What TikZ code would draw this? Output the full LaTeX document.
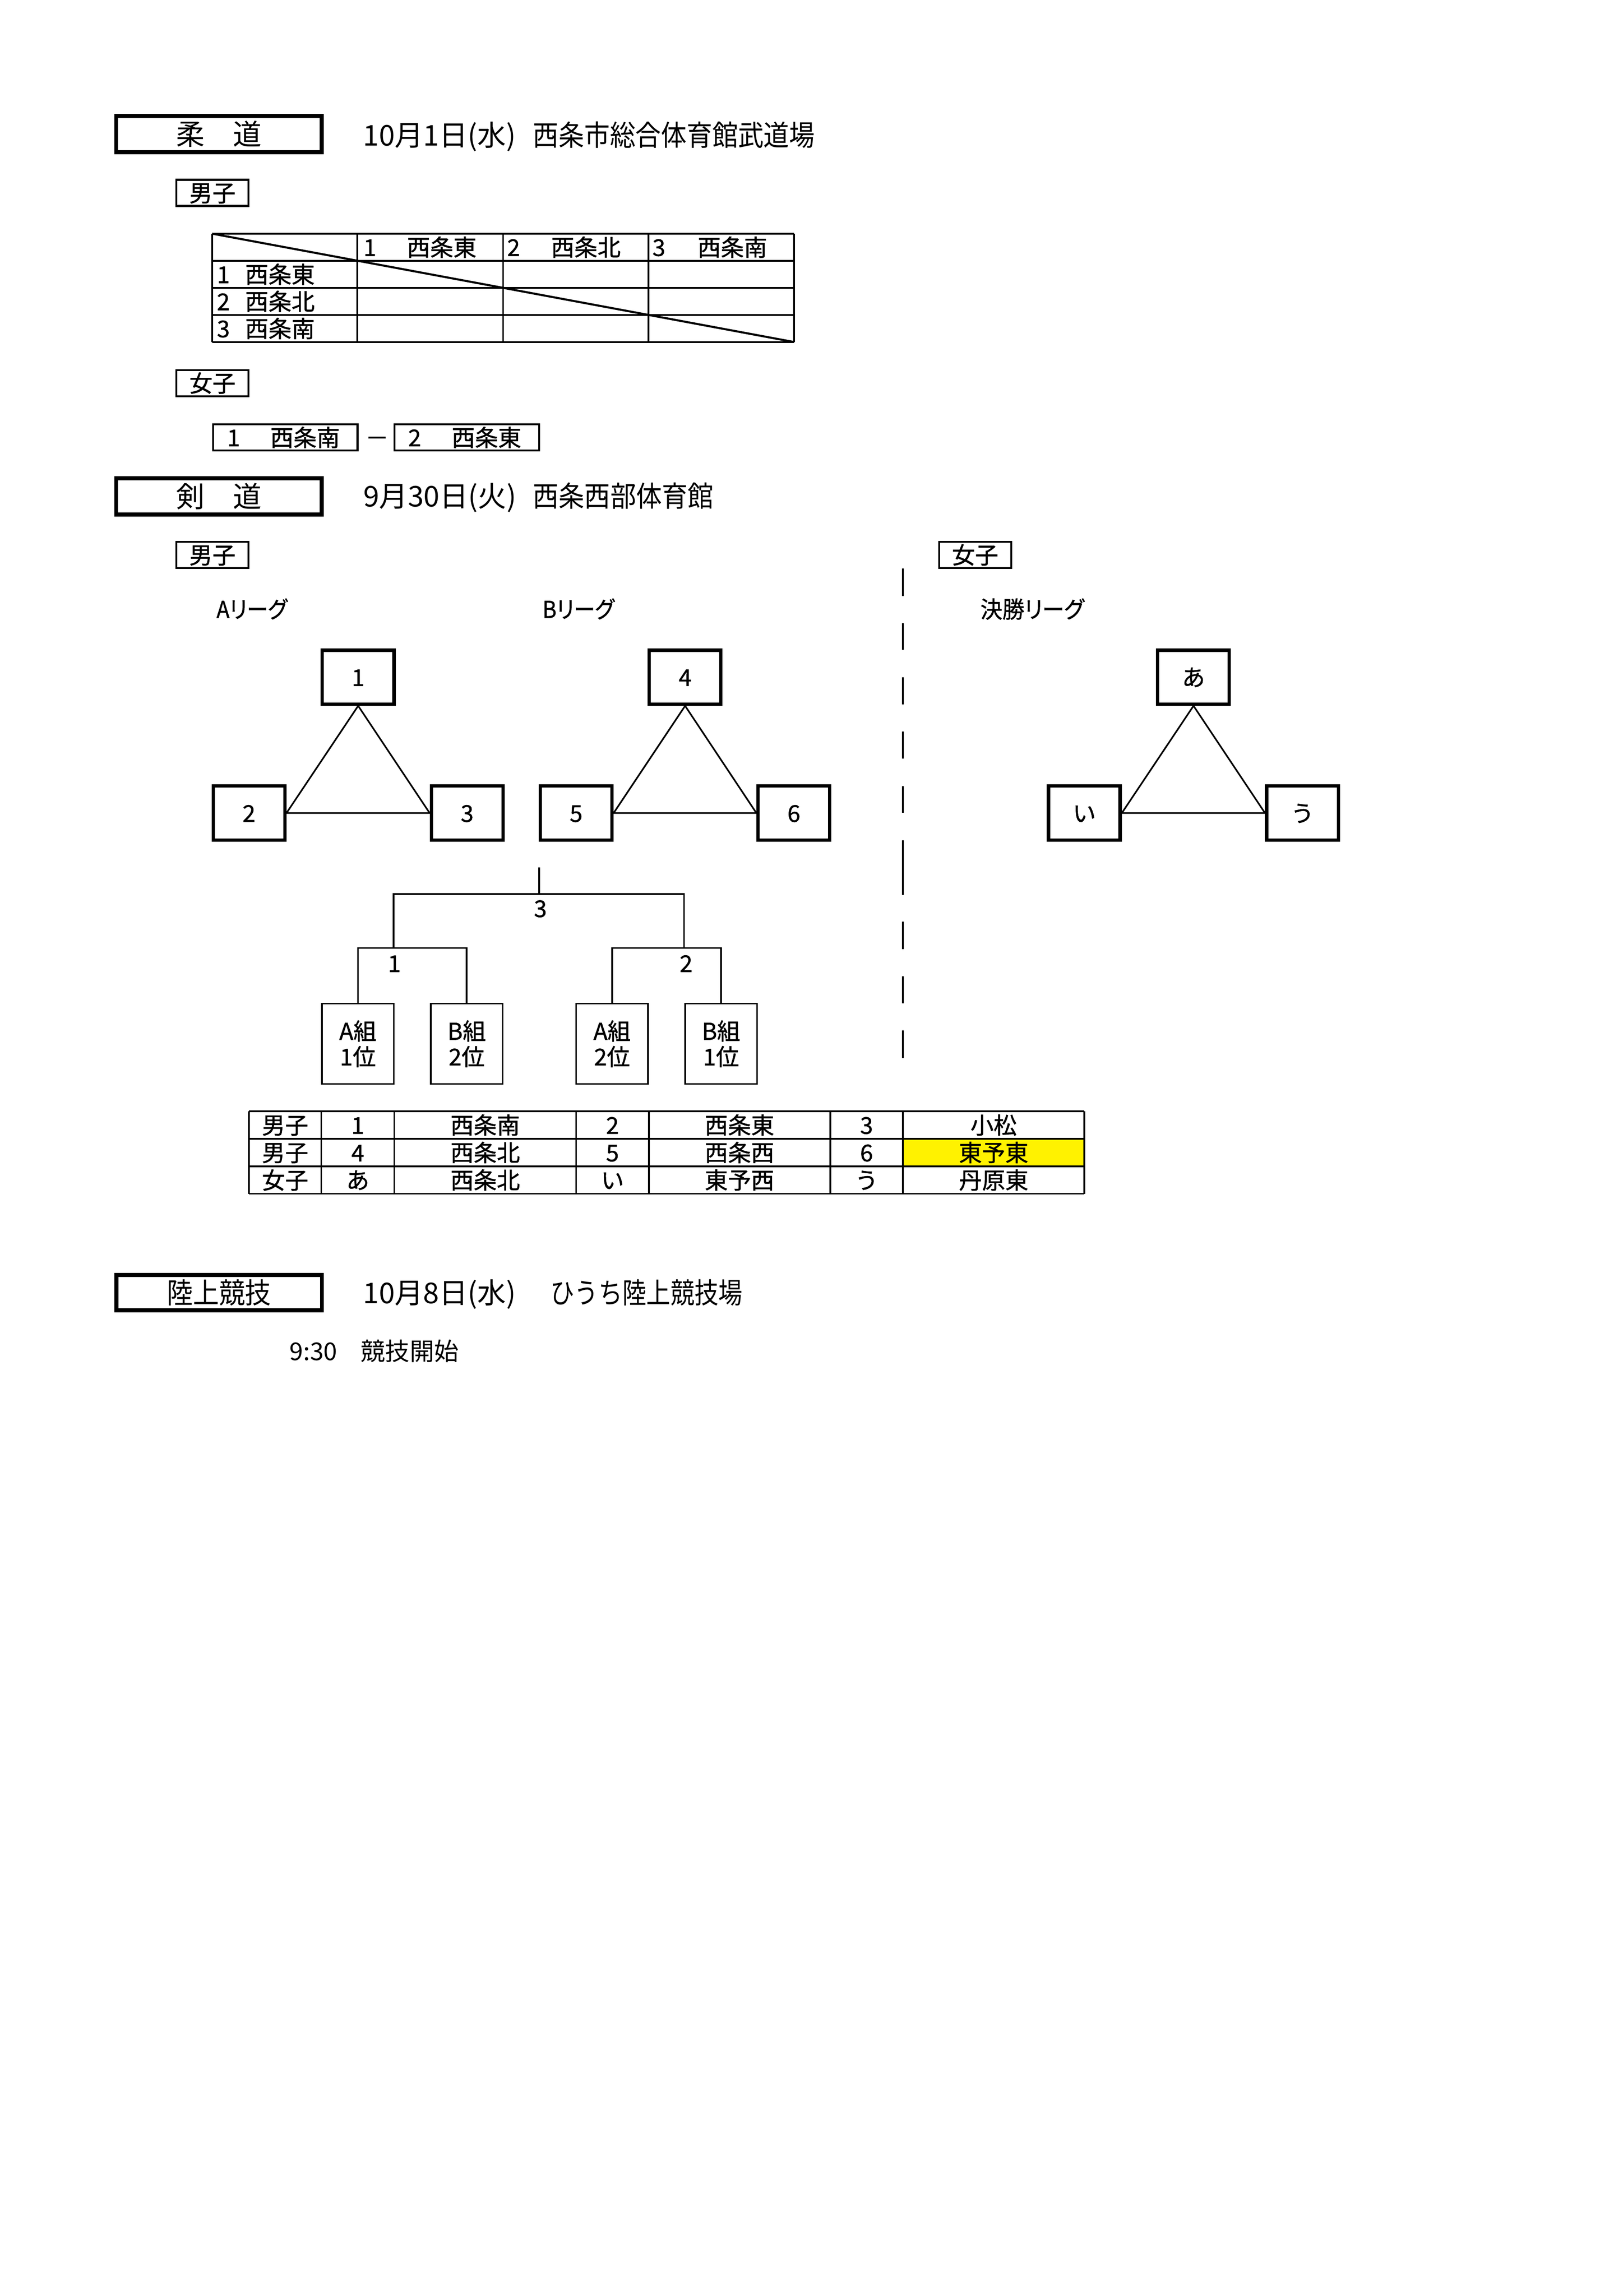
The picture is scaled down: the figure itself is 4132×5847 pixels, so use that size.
\documentclass[tikz,border=0pt]{standalone}
\usepackage{fontspec}
\setmainfont{Noto Sans CJK JP}
\newfontfamily\gth[FakeBold=1.0]{Noto Sans CJK JP}
\newfontfamily\pgo[RawFeature=+palt, FakeBold=1.0]{Noto Sans CJK JP}
\newcommand\fsS{\gth\fontsize{8.5pt}{9.4pt}\selectfont}
\newcommand\fsL{\fontsize{10.5pt}{12pt}\selectfont}
\newcommand\fsM{\fontsize{9pt}{10pt}\selectfont}
\tikzset{
  txt/.style={inner sep=0pt, text height=7.48pt, text depth=1.02pt, font=\fsS},
  mtxt/.style={inner sep=0pt, text height=7.92pt, text depth=1.08pt, font=\fsM},
  htxt/.style={inner sep=0pt, text height=9.24pt, text depth=1.26pt, font=\fsL},
  bigbox/.style={draw, line width=1.44pt, inner sep=0pt, minimum width=75.35pt,
    minimum height=13.3pt, text height=9.24pt, text depth=1.26pt, font=\fsL},
  lblbox/.style={draw, line width=0.72pt, inner sep=0pt, minimum width=26.51pt,
    minimum height=9.6pt, text height=7.48pt, text depth=1.02pt, font=\fsS},
  mbox/.style={draw, line width=0.72pt, inner sep=0pt, minimum width=53.0pt,
    minimum height=9.65pt},
  sqbox/.style={draw, line width=1.22pt, inner sep=0pt, minimum width=26.29pt,
    minimum height=19.81pt, text height=7.48pt, text depth=1.02pt, font=\fsS},
  gbox/.style={draw, line width=0.6pt, inner sep=0pt, minimum width=26.36pt,
    minimum height=29.53pt, align=center, font=\fsS},
  tline/.style={line width=0.62pt},
  thinline/.style={line width=0.6pt},
  divline/.style={line width=0.58pt},
}
\begin{document}
\begin{tikzpicture}[x=0.144066pt, y=-0.144066pt]
\useasboundingbox (0,0) rectangle (4132,5847);
\fill[white] (0,0) rectangle (4132,5847);

% ---------------- 柔道 ----------------
\node[bigbox] (judo) at (557.5,341.5) {柔　道};
\node[htxt, anchor=west] (judodate) at (923,344) {10月1日(水)};
\node[htxt, anchor=west] (judovenue) at (1356,344) {\scalebox{0.895}[1]{西条市総合体育館武道場}};

\node[lblbox] (jmale) at (541,491) {男子};

% table
\foreach \xx in {540,910,1281,1651,2022} \draw[tline] (\xx,595) -- (\xx,871);
\foreach \yy in {595,664,733,802,871} \draw[tline] (540,\yy) -- (2022,\yy);
\coordinate (tdA) at (540,595);
\coordinate (tdB) at (2022,871);
\draw[line width=0.75pt] (tdA) -- (tdB);

\node[txt, anchor=west] (hn1) at (924,629.5) {1};
\node[txt, anchor=west] (hs1) at (1035,629.5) {西条東};
\node[txt, anchor=west] (hn2) at (1290,629.5) {2};
\node[txt, anchor=west] (hs2) at (1402,629.5) {西条北};
\node[txt, anchor=west] (hn3) at (1660,629.5) {3};
\node[txt, anchor=west] (hs3) at (1775,629.5) {西条南};

\node[txt, anchor=west] (rn1) at (551,698.5) {1};
\node[txt, anchor=west] (rs1) at (623,698.5) {西条東};
\node[txt, anchor=west] (rn2) at (551,767.5) {2};
\node[txt, anchor=west] (rs2) at (623,767.5) {西条北};
\node[txt, anchor=west] (rn3) at (551,836.5) {3};
\node[txt, anchor=west] (rs3) at (623,836.5) {西条南};

\node[lblbox] (jfemale) at (541,975.5) {女子};

\node[mbox] (mb1) at (726.5,1114) {};
\node[txt, anchor=west] (mb1n) at (577,1114) {1};
\node[txt, anchor=west] (mb1s) at (687,1114) {西条南};
\node[txt] (mdash) at (960,1114) {－};
\node[mbox] (mb2) at (1188.5,1114) {};
\node[txt, anchor=west] (mb2n) at (1038,1114) {2};
\node[txt, anchor=west] (mb2s) at (1149,1114) {西条東};

% ---------------- 剣道 ----------------
\node[bigbox] (kendo) at (557.5,1264) {剣　道};
\node[htxt, anchor=west] (kendodate) at (924,1263) {9月30日(火)};
\node[htxt, anchor=west] (kendovenue) at (1356,1263) {\scalebox{0.9}[1]{西条西部体育館}};

\node[lblbox] (kmale) at (541,1413) {男子};
\node[lblbox] (kfemale) at (2483,1413) {女子};

\node[txt, anchor=west] (lgA) at (550,1551) {\pgo\scalebox{0.92}[1]{Aリーグ}};
\node[txt, anchor=west] (lgB) at (1380,1551) {\pgo\scalebox{0.92}[1]{Bリーグ}};
\node[txt, anchor=west] (lgF) at (2495,1551) {\pgo\scalebox{0.95}[1]{決勝リーグ}};

% A league
\node[sqbox] (b1) at (912,1724.5) {1};
\node[sqbox] (b2) at (634,2070.5) {2};
\node[sqbox] (b3) at (1189.5,2070.5) {3};
\draw[thinline] (b1.south) -- (b2.east) -- (b3.west) -- cycle;
% B league
\node[sqbox] (b4) at (1744.5,1724.5) {4};
\node[sqbox] (b5) at (1467,2070.5) {5};
\node[sqbox] (b6) at (2021.5,2070.5) {6};
\draw[thinline] (b4.south) -- (b5.east) -- (b6.west) -- cycle;
% final league
\node[sqbox] (ba) at (3039,1724.5) {あ};
\node[sqbox] (bi) at (2761,2070.5) {い};
\node[sqbox] (bu) at (3316.5,2070.5) {う};
\draw[thinline] (ba.south) -- (bi.east) -- (bu.west) -- cycle;

% divider
\foreach \ys/\ye in {1448/1518,1587/1655,1725/1794,1863/1932,2002/2070,2140/2279,2347/2417,2486/2555,2624/2694}
  \draw[divline] (2299,\ys) -- (2299,\ye);

% tournament
\node[gbox] (A1) at (911.3,2658) {A組\\1位};
\node[gbox] (B2) at (1188.3,2658) {B組\\2位};
\node[gbox] (A2) at (1558.5,2658) {A組\\2位};
\node[gbox] (B1) at (1836,2658) {B組\\1位};
\coordinate (stub) at (1373,2209);
\coordinate (jt) at (1373,2277);
\coordinate (jl) at (1002,2277);
\coordinate (jr) at (1742,2277);
\coordinate (sl) at (1002,2414);
\coordinate (sr) at (1742,2414);
\draw[thinline] (stub) -- (jt);
\draw[thinline] (sl) -- (jl) -- (jr) -- (sr);
\draw[thinline] (A1.north) |- (sl) -| (B2.north);
\draw[thinline] (A2.north) |- (sr) -| (B1.north);
\node[txt] (lab3) at (1376,2313) {3};
\node[txt] (lab1) at (1004,2453) {1};
\node[txt] (lab2) at (1747,2453) {2};

% result table
\fill[yellow] (2299,2900) rectangle (2761,2970);
\foreach \xx in {634,818,1004,1467,1652,2114,2299,2761} \draw[tline] (\xx,2830) -- (\xx,3040);
\foreach \yy in {2830,2900,2970,3040} \draw[tline] (634,\yy) -- (2761,\yy);
\foreach \rr/\yy/\va/\vb/\vc/\vd/\ve/\vf/\vg in
  {1/2865/男子/1/西条南/2/西条東/3/小松,
   2/2935/男子/4/西条北/5/西条西/6/東予東,
   3/3005/女子/あ/西条北/い/東予西/う/丹原東}{
  \node[txt] (t\rr a) at (726,\yy) {\va};
  \node[txt] (t\rr b) at (911,\yy) {\vb};
  \node[txt] (t\rr c) at (1235.5,\yy) {\vc};
  \node[txt] (t\rr d) at (1559.5,\yy) {\vd};
  \node[txt] (t\rr e) at (1883,\yy) {\ve};
  \node[txt] (t\rr f) at (2206.5,\yy) {\vf};
  \node[txt] (t\rr g) at (2530,\yy) {\vg};
}

% ---------------- 陸上競技 ----------------
\node[bigbox, minimum height=12.97pt] (riku) at (558,3292) {\scalebox{0.91}[1]{陸上競技}};
\node[htxt, anchor=west] (rikudate) at (923,3292) {10月8日(水)};
\node[htxt, anchor=west] (rikuvenue) at (1400,3292) {\scalebox{0.84}[1]{ひうち陸上競技場}};
\node[mtxt, anchor=west] (rikutime) at (736,3440) {9:30};
\node[mtxt, anchor=west] (rikustart) at (917,3440) {競技開始};
\end{tikzpicture}
\end{document}
